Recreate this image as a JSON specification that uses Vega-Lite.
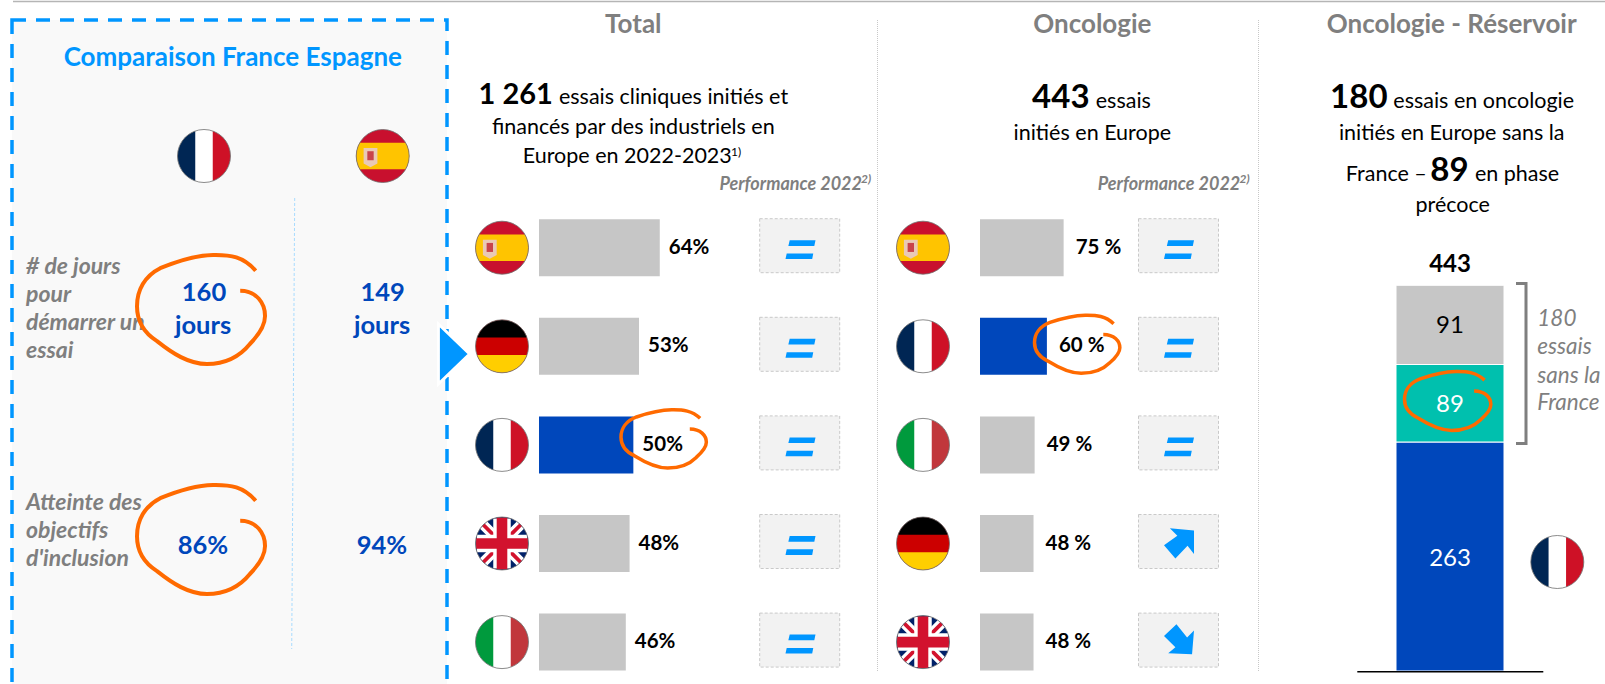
{
"$schema":"https://vega.github.io/schema/vega-lite/v6.json",
"padding":0,"bounds":"flush","spacing":0,"background":"white",
"datasets":{
"flags":[{"country":"FR","parts":["white","fr_b","fr_r"]},{"country":"ES","parts":["es_r","es_y","es_e1","es_e2"]},{"country":"DE","parts":["de_r","de_k","de_g"]},{"country":"IT","parts":["white","it_g","it_r"]},{"country":"UK","parts":["uk_b","uk_wd","uk_rd","uk_wc","uk_rc"]}],
"total":[{"rank":1,"country":"ES","value":64,"label":"64%","group":"bar_autres","trend":"trend_equal"},{"rank":2,"country":"DE","value":53,"label":"53%","group":"bar_autres","trend":"trend_equal"},{"rank":3,"country":"FR","value":50,"label":"50%","group":"bar_france","trend":"trend_equal"},{"rank":4,"country":"UK","value":48,"label":"48%","group":"bar_autres","trend":"trend_equal"},{"rank":5,"country":"IT","value":46,"label":"46%","group":"bar_autres","trend":"trend_equal"}],
"onco":[{"rank":1,"country":"ES","value":75,"label":"75 %","group":"bar_autres","trend":"trend_equal"},{"rank":2,"country":"FR","value":60,"label":"60 %","group":"bar_france","trend":"trend_equal"},{"rank":3,"country":"IT","value":49,"label":"49 %","group":"bar_autres","trend":"trend_equal"},{"rank":4,"country":"DE","value":48,"label":"48 %","group":"bar_autres","trend":"trend_up"},{"rank":5,"country":"UK","value":48,"label":"48 %","group":"bar_autres","trend":"trend_down"}],
"stack":[{"segment":"seg_france","value":263,"ord":1},{"segment":"seg_precoce","value":89,"ord":2},{"segment":"seg_autres","value":91,"ord":3}]
},
"hconcat":[
{"width":472,"height":684,"layer":[
{"data":{"values":[{"t":"cadre"}]},"mark":{"type":"rect","clip":true,"fill":"#f9f9f9","stroke":"#0096ff","strokeWidth":3.5,"strokeDash":[14,10]},"encoding":{"x":{"datum":12,"scale":{"domain":[0,472],"nice":false,"zero":false}},"x2":{"datum":447},"y":{"datum":19,"scale":{"domain":[0,684],"reverse":true,"nice":false,"zero":false}},"y2":{"datum":695}}},
{"data":{"values":[{"t":"l"}]},"mark":{"type":"rule","color":"#b5b5b5","strokeWidth":1.5},"encoding":{"x":{"datum":13},"x2":{"datum":472},"y":{"datum":0.5}}},
{"data":{"values":[{"t":"l"}]},"mark":{"type":"rule","color":"#a9dcff","strokeWidth":1,"strokeDash":[3,2]},"encoding":{"x":{"datum":294.7},"x2":{"datum":291.7},"y":{"datum":197},"y2":{"datum":648}}},
{"data":{"values":[{"t":"Comparaison France Espagne"}]},"mark":{"type":"text","style":"title"},"encoding":{"text":{"field":"t"},"x":{"datum":232.8},"y":{"datum":65}}},
{"data":{"values":[{"country":"FR"}]},"transform":[{"lookup":"country","from":{"data":{"name":"flags"},"key":"country","fields":["parts"]}},{"flatten":["parts"]}],"mark":{"type":"point","filled":true,"opacity":1,"size":2809,"strokeWidth":0},"encoding":{"x":{"datum":204},"y":{"datum":155},"shape":{"field":"parts","type":"nominal"},"color":{"field":"parts","type":"nominal"}}},
{"data":{"values":[{"country":"ES"}]},"transform":[{"lookup":"country","from":{"data":{"name":"flags"},"key":"country","fields":["parts"]}},{"flatten":["parts"]}],"mark":{"type":"point","filled":true,"opacity":1,"size":2809,"strokeWidth":0},"encoding":{"x":{"datum":382.7},"y":{"datum":155},"shape":{"field":"parts","type":"nominal"},"color":{"field":"parts","type":"nominal"}}},
{"data":{"values":[{"country":"FR"}]},"mark":{"type":"point","shape":"circle","size":2809,"filled":false,"opacity":1,"stroke":"#6e6e6e","strokeWidth":0.8},"encoding":{"x":{"datum":204},"y":{"datum":155}}},
{"data":{"values":[{"country":"ES"}]},"mark":{"type":"point","shape":"circle","size":2809,"filled":false,"opacity":1,"stroke":"#6e6e6e","strokeWidth":0.8},"encoding":{"x":{"datum":382.7},"y":{"datum":155}}},
{"data":{"values":[{"t":"# de jours"}]},"mark":{"type":"text","style":"rowl"},"encoding":{"text":{"field":"t"},"x":{"datum":26},"y":{"datum":273}}},
{"data":{"values":[{"t":"pour"}]},"mark":{"type":"text","style":"rowl"},"encoding":{"text":{"field":"t"},"x":{"datum":26},"y":{"datum":301}}},
{"data":{"values":[{"t":"démarrer un"}]},"mark":{"type":"text","style":"rowl"},"encoding":{"text":{"field":"t"},"x":{"datum":26},"y":{"datum":329}}},
{"data":{"values":[{"t":"essai"}]},"mark":{"type":"text","style":"rowl"},"encoding":{"text":{"field":"t"},"x":{"datum":26},"y":{"datum":357}}},
{"data":{"values":[{"t":"Atteinte des"}]},"mark":{"type":"text","style":"rowl"},"encoding":{"text":{"field":"t"},"x":{"datum":26},"y":{"datum":509}}},
{"data":{"values":[{"t":"objectifs"}]},"mark":{"type":"text","style":"rowl"},"encoding":{"text":{"field":"t"},"x":{"datum":26},"y":{"datum":537}}},
{"data":{"values":[{"t":"d'inclusion"}]},"mark":{"type":"text","style":"rowl"},"encoding":{"text":{"field":"t"},"x":{"datum":26},"y":{"datum":565}}},
{"data":{"values":[{"t":"160"}]},"mark":{"type":"text","style":"val"},"encoding":{"text":{"field":"t"},"x":{"datum":204},"y":{"datum":300}}},
{"data":{"values":[{"t":"jours"}]},"mark":{"type":"text","style":"val"},"encoding":{"text":{"field":"t"},"x":{"datum":203},"y":{"datum":333}}},
{"data":{"values":[{"t":"149"}]},"mark":{"type":"text","style":"val"},"encoding":{"text":{"field":"t"},"x":{"datum":382.7},"y":{"datum":300}}},
{"data":{"values":[{"t":"jours"}]},"mark":{"type":"text","style":"val"},"encoding":{"text":{"field":"t"},"x":{"datum":382},"y":{"datum":333}}},
{"data":{"values":[{"t":"86%"}]},"mark":{"type":"text","style":"val"},"encoding":{"text":{"field":"t"},"x":{"datum":203},"y":{"datum":552.7}}},
{"data":{"values":[{"t":"94%"}]},"mark":{"type":"text","style":"val"},"encoding":{"text":{"field":"t"},"x":{"datum":382},"y":{"datum":552.7}}},
{"data":{"values":[{"t":"160 jours"}]},"mark":{"type":"point","filled":false,"opacity":1,"stroke":"#ff6a00","strokeWidth":4,"size":16641,"shape":"M0.84,-0.6C0.65,-0.82 0.45,-0.85 0.18,-0.845C-0.1,-0.84 -0.4,-0.74 -0.64,-0.64C-0.88,-0.52 -1,-0.3 -1,-0.05C-1,0.2 -0.88,0.37 -0.69,0.49C-0.45,0.68 -0.2,0.845 0.085,0.845C0.4,0.845 0.6,0.72 0.75,0.535C0.9,0.38 0.985,0.25 0.985,0.1C0.985,-0.1 0.85,-0.29 0.6,-0.29"},"encoding":{"x":{"datum":201.5},"y":{"datum":308.5}}},
{"data":{"values":[{"t":"86%"}]},"mark":{"type":"point","filled":false,"opacity":1,"stroke":"#ff6a00","strokeWidth":4,"size":16641,"shape":"M0.84,-0.6C0.65,-0.82 0.45,-0.85 0.18,-0.845C-0.1,-0.84 -0.4,-0.74 -0.64,-0.64C-0.88,-0.52 -1,-0.3 -1,-0.05C-1,0.2 -0.88,0.37 -0.69,0.49C-0.45,0.68 -0.2,0.845 0.085,0.845C0.4,0.845 0.6,0.72 0.75,0.535C0.9,0.38 0.985,0.25 0.985,0.1C0.985,-0.1 0.85,-0.29 0.6,-0.29"},"encoding":{"x":{"datum":201.5},"y":{"datum":538.5}}},
{"data":{"values":[{"t":"flèche"}]},"mark":{"type":"point","filled":true,"opacity":1,"color":"#0096ff","stroke":"white","strokeWidth":3,"size":3600,"shape":"M-0.52,-1L0.52,0L-0.52,1Z"},"encoding":{"x":{"datum":454},"y":{"datum":353}}}
]},
{"width":405,"height":684,"resolve":{"scale":{"x":"independent","y":"independent"}},"layer":[
{"data":{"name":"total"},"layer":[
{"mark":{"type":"bar","orient":"horizontal","size":57},"encoding":{"x":{"field":"value","type":"quantitative","stack":null,"scale":{"domain":[-35.506,179.12],"nice":false,"zero":false}},"y":{"field":"rank","type":"quantitative","scale":{"domain":[-1.502,5.435],"reverse":true,"nice":false,"zero":false,"padding":0}},"color":{"field":"group","type":"nominal"}}},
{"mark":{"type":"text","style":"barlab","dx":9},"encoding":{"x":{"field":"value","type":"quantitative"},"y":{"field":"rank","type":"quantitative"},"text":{"field":"label"}}}
]},
{"data":{"name":"total"},"layer":[
{"transform":[{"lookup":"country","from":{"data":{"name":"flags"},"key":"country","fields":["parts"]}},{"flatten":["parts"]}],"mark":{"type":"point","filled":true,"opacity":1,"size":2809,"strokeWidth":0},"encoding":{"x":{"datum":502,"scale":{"domain":[472,877],"nice":false,"zero":false}},"y":{"field":"rank","type":"quantitative","scale":{"domain":[-1.502,5.435],"reverse":true,"nice":false,"zero":false}},"shape":{"field":"parts","type":"nominal"},"color":{"field":"parts","type":"nominal"}}},
{"mark":{"type":"point","shape":"circle","size":2809,"filled":false,"opacity":1,"stroke":"#6e6e6e","strokeWidth":0.8},"encoding":{"x":{"datum":502},"y":{"field":"rank","type":"quantitative"}}},
{"mark":{"type":"point","filled":true,"opacity":1,"fill":"#f2f2f2","stroke":"#c9c9c9","strokeWidth":1,"strokeDash":[3,2],"yOffset":-2,"size":6400,"shape":"M-1,-0.675L1,-0.675L1,0.675L-1,0.675Z"},"encoding":{"x":{"datum":799.7},"y":{"field":"rank","type":"quantitative"}}},
{"mark":{"type":"point","filled":true,"opacity":1,"color":"#0096ff","size":900,"strokeWidth":0},"encoding":{"x":{"datum":800.5},"y":{"field":"rank","type":"quantitative"},"shape":{"field":"trend","type":"nominal"}}},
{"transform":[{"filter":{"field":"country","equal":"FR"}}],"mark":{"type":"point","filled":false,"opacity":1,"stroke":"#ff6a00","strokeWidth":3.5,"yOffset":-6,"size":7396,"shape":"M0.84,-0.48C0.65,-0.66 0.45,-0.68 0.18,-0.676C-0.1,-0.67 -0.4,-0.59 -0.64,-0.51C-0.88,-0.42 -1,-0.24 -1,-0.04C-1,0.16 -0.88,0.3 -0.69,0.39C-0.45,0.54 -0.2,0.676 0.085,0.676C0.4,0.676 0.6,0.58 0.75,0.43C0.9,0.3 0.985,0.2 0.985,0.08C0.985,-0.08 0.85,-0.23 0.6,-0.23"},"encoding":{"x":{"datum":664},"y":{"field":"rank","type":"quantitative"}}}
]},
{"layer":[
{"data":{"values":[{"t":"l"}]},"mark":{"type":"rule","color":"#b5b5b5","strokeWidth":1.5},"encoding":{"x":{"datum":472,"scale":{"domain":[472,877],"nice":false,"zero":false}},"x2":{"datum":877},"y":{"datum":0.5,"scale":{"domain":[0,684],"reverse":true,"nice":false,"zero":false}}}},
{"data":{"values":[{"t":"Total"}]},"mark":{"type":"text","style":"head"},"encoding":{"text":{"field":"t"},"x":{"datum":633.3},"y":{"datum":31.7}}},
{"data":{"values":[{"t":"1 261"}]},"mark":{"type":"text","style":"lead28"},"encoding":{"text":{"field":"t"},"x":{"datum":515.7},"y":{"datum":102.7}}},
{"data":{"values":[{"t":"essais cliniques initiés et"}]},"mark":{"type":"text","style":"body"},"encoding":{"text":{"field":"t"},"x":{"datum":673.5},"y":{"datum":102.7}}},
{"data":{"values":[{"t":"financés par des industriels en"}]},"mark":{"type":"text","style":"body"},"encoding":{"text":{"field":"t"},"x":{"datum":633.3},"y":{"datum":133}}},
{"data":{"values":[{"t":"Europe en 2022-2023"}]},"mark":{"type":"text","style":"body"},"encoding":{"text":{"field":"t"},"x":{"datum":627.3},"y":{"datum":161.7}}},
{"data":{"values":[{"t":"1)"}]},"mark":{"type":"text","style":"sup"},"encoding":{"text":{"field":"t"},"x":{"datum":736},"y":{"datum":155}}},
{"data":{"values":[{"t":"Performance 2022"}]},"mark":{"type":"text","style":"perf"},"encoding":{"text":{"field":"t"},"x":{"datum":790.7},"y":{"datum":189.3}}},
{"data":{"values":[{"t":"2)"}]},"mark":{"type":"text","style":"supi"},"encoding":{"text":{"field":"t"},"x":{"datum":866},"y":{"datum":181.7}}}
]}
]},
{"width":381,"height":684,"resolve":{"scale":{"x":"independent","y":"independent"}},"layer":[
{"data":{"name":"onco"},"layer":[
{"mark":{"type":"bar","orient":"horizontal","size":57},"encoding":{"x":{"field":"value","type":"quantitative","stack":null,"scale":{"domain":[-92.38,249.33],"nice":false,"zero":false}},"y":{"field":"rank","type":"quantitative","scale":{"domain":[-1.502,5.435],"reverse":true,"nice":false,"zero":false,"padding":0}},"color":{"field":"group","type":"nominal"}}},
{"mark":{"type":"text","style":"barlab","dx":12},"encoding":{"x":{"field":"value","type":"quantitative"},"y":{"field":"rank","type":"quantitative"},"text":{"field":"label"}}}
]},
{"data":{"name":"onco"},"layer":[
{"transform":[{"lookup":"country","from":{"data":{"name":"flags"},"key":"country","fields":["parts"]}},{"flatten":["parts"]}],"mark":{"type":"point","filled":true,"opacity":1,"size":2809,"strokeWidth":0},"encoding":{"x":{"datum":923,"scale":{"domain":[877,1258],"nice":false,"zero":false}},"y":{"field":"rank","type":"quantitative","scale":{"domain":[-1.502,5.435],"reverse":true,"nice":false,"zero":false}},"shape":{"field":"parts","type":"nominal"},"color":{"field":"parts","type":"nominal"}}},
{"mark":{"type":"point","shape":"circle","size":2809,"filled":false,"opacity":1,"stroke":"#6e6e6e","strokeWidth":0.8},"encoding":{"x":{"datum":923},"y":{"field":"rank","type":"quantitative"}}},
{"mark":{"type":"point","filled":true,"opacity":1,"fill":"#f2f2f2","stroke":"#c9c9c9","strokeWidth":1,"strokeDash":[3,2],"yOffset":-2,"size":6400,"shape":"M-1,-0.675L1,-0.675L1,0.675L-1,0.675Z"},"encoding":{"x":{"datum":1178.5},"y":{"field":"rank","type":"quantitative"}}},
{"mark":{"type":"point","filled":true,"opacity":1,"color":"#0096ff","size":900,"strokeWidth":0},"encoding":{"x":{"datum":1179},"y":{"field":"rank","type":"quantitative"},"shape":{"field":"trend","type":"nominal"}}},
{"transform":[{"filter":{"field":"country","equal":"FR"}}],"mark":{"type":"point","filled":false,"opacity":1,"stroke":"#ff6a00","strokeWidth":3.5,"yOffset":-2,"size":7396,"shape":"M0.84,-0.48C0.65,-0.66 0.45,-0.68 0.18,-0.676C-0.1,-0.67 -0.4,-0.59 -0.64,-0.51C-0.88,-0.42 -1,-0.24 -1,-0.04C-1,0.16 -0.88,0.3 -0.69,0.39C-0.45,0.54 -0.2,0.676 0.085,0.676C0.4,0.676 0.6,0.58 0.75,0.43C0.9,0.3 0.985,0.2 0.985,0.08C0.985,-0.08 0.85,-0.23 0.6,-0.23"},"encoding":{"x":{"datum":1077.5},"y":{"field":"rank","type":"quantitative"}}}
]},
{"layer":[
{"data":{"values":[{"t":"l"}]},"mark":{"type":"rule","color":"#b5b5b5","strokeWidth":1.5},"encoding":{"x":{"datum":877,"scale":{"domain":[877,1258],"nice":false,"zero":false}},"x2":{"datum":1258},"y":{"datum":0.5,"scale":{"domain":[0,684],"reverse":true,"nice":false,"zero":false}}}},
{"data":{"values":[{"t":"l"}]},"mark":{"type":"rule","color":"#c8c8c8","strokeWidth":1,"strokeDash":[1,1]},"encoding":{"x":{"datum":877.5},"y":{"datum":19},"y2":{"datum":670}}},
{"data":{"values":[{"t":"Oncologie"}]},"mark":{"type":"text","style":"head"},"encoding":{"text":{"field":"t"},"x":{"datum":1092.3},"y":{"datum":31.7}}},
{"data":{"values":[{"t":"443"}]},"mark":{"type":"text","style":"lead32"},"encoding":{"text":{"field":"t"},"x":{"datum":1060.8},"y":{"datum":106.7}}},
{"data":{"values":[{"t":"essais"}]},"mark":{"type":"text","style":"body"},"encoding":{"text":{"field":"t"},"x":{"datum":1123.3},"y":{"datum":106.7}}},
{"data":{"values":[{"t":"initiés en Europe"}]},"mark":{"type":"text","style":"body"},"encoding":{"text":{"field":"t"},"x":{"datum":1092.3},"y":{"datum":139}}},
{"data":{"values":[{"t":"Performance 2022"}]},"mark":{"type":"text","style":"perf"},"encoding":{"text":{"field":"t"},"x":{"datum":1169},"y":{"datum":189.3}}},
{"data":{"values":[{"t":"2)"}]},"mark":{"type":"text","style":"supi"},"encoding":{"text":{"field":"t"},"x":{"datum":1244.5},"y":{"datum":181.7}}}
]}
]},
{"width":347,"height":684,"resolve":{"scale":{"y":"independent"}},"layer":[
{"data":{"name":"stack"},"mark":{"type":"bar","orient":"vertical","size":108,"stroke":"white","strokeWidth":1},"encoding":{"x":{"datum":1450,"scale":{"domain":[1258,1605],"nice":false,"zero":false,"padding":0}},"y":{"field":"value","type":"quantitative","stack":"zero","scale":{"domain":[-16.08,769.5],"nice":false,"zero":false}},"color":{"field":"segment","type":"nominal"},"order":{"field":"ord","type":"quantitative"}}},
{"layer":[
{"data":{"values":[{"t":"l"}]},"mark":{"type":"rule","color":"#b5b5b5","strokeWidth":1.5},"encoding":{"x":{"datum":1258},"x2":{"datum":1605},"y":{"datum":0.5,"scale":{"domain":[0,684],"reverse":true,"nice":false,"zero":false}}}},
{"data":{"values":[{"t":"l"}]},"mark":{"type":"rule","color":"#c8c8c8","strokeWidth":1,"strokeDash":[1,1]},"encoding":{"x":{"datum":1258.5},"y":{"datum":19},"y2":{"datum":670}}},
{"data":{"values":[{"t":"l"}]},"mark":{"type":"rule","color":"#000000","strokeWidth":1.5},"encoding":{"x":{"datum":1357.3},"x2":{"datum":1543.3},"y":{"datum":670.7}}},
{"data":{"values":[{"t":"Oncologie - Réservoir"}]},"mark":{"type":"text","style":"head"},"encoding":{"text":{"field":"t"},"x":{"datum":1451.7},"y":{"datum":31.7}}},
{"data":{"values":[{"t":"180"}]},"mark":{"type":"text","style":"lead32"},"encoding":{"text":{"field":"t"},"x":{"datum":1358.8},"y":{"datum":106.7}}},
{"data":{"values":[{"t":"essais en oncologie"}]},"mark":{"type":"text","style":"body"},"encoding":{"text":{"field":"t"},"x":{"datum":1483.7},"y":{"datum":106.7}}},
{"data":{"values":[{"t":"initiés en Europe sans la"}]},"mark":{"type":"text","style":"body"},"encoding":{"text":{"field":"t"},"x":{"datum":1451.7},"y":{"datum":139}}},
{"data":{"values":[{"t":"France –"}]},"mark":{"type":"text","style":"body"},"encoding":{"text":{"field":"t"},"x":{"datum":1386.3},"y":{"datum":180}}},
{"data":{"values":[{"t":"89"}]},"mark":{"type":"text","style":"lead32"},"encoding":{"text":{"field":"t"},"x":{"datum":1449.5},"y":{"datum":180}}},
{"data":{"values":[{"t":"en phase"}]},"mark":{"type":"text","style":"body"},"encoding":{"text":{"field":"t"},"x":{"datum":1517},"y":{"datum":180}}},
{"data":{"values":[{"t":"précoce"}]},"mark":{"type":"text","style":"body"},"encoding":{"text":{"field":"t"},"x":{"datum":1452.7},"y":{"datum":211}}},
{"data":{"values":[{"t":"443"}]},"mark":{"type":"text","style":"tot"},"encoding":{"text":{"field":"t"},"x":{"datum":1450},"y":{"datum":270.7}}},
{"data":{"values":[{"t":"91"}]},"mark":{"type":"text","style":"seg"},"encoding":{"text":{"field":"t"},"x":{"datum":1450},"y":{"datum":331.7}}},
{"data":{"values":[{"t":"89"}]},"mark":{"type":"text","style":"segw"},"encoding":{"text":{"field":"t"},"x":{"datum":1450},"y":{"datum":410.7}}},
{"data":{"values":[{"t":"263"}]},"mark":{"type":"text","style":"segw"},"encoding":{"text":{"field":"t"},"x":{"datum":1450},"y":{"datum":565}}},
{"data":{"values":[{"t":"89"}]},"mark":{"type":"point","filled":false,"opacity":1,"stroke":"#ff6a00","strokeWidth":3.5,"size":7569,"shape":"M0.84,-0.48C0.65,-0.66 0.45,-0.68 0.18,-0.676C-0.1,-0.67 -0.4,-0.59 -0.64,-0.51C-0.88,-0.42 -1,-0.24 -1,-0.04C-1,0.16 -0.88,0.3 -0.69,0.39C-0.45,0.54 -0.2,0.676 0.085,0.676C0.4,0.676 0.6,0.58 0.75,0.43C0.9,0.3 0.985,0.2 0.985,0.08C0.985,-0.08 0.85,-0.23 0.6,-0.23"},"encoding":{"x":{"datum":1448},"y":{"datum":400}}},
{"data":{"values":[{"t":"180 essais sans la France"}]},"mark":{"type":"point","filled":false,"opacity":1,"stroke":"#7f7f7f","strokeWidth":3,"size":25600,"shape":"M-0.0625,-1L0.0625,-1L0.0625,1L-0.0625,1"},"encoding":{"x":{"datum":1521},"y":{"datum":362.5}}},
{"data":{"values":[{"t":"180"}]},"mark":{"type":"text","style":"side"},"encoding":{"text":{"field":"t"},"x":{"datum":1537.3},"y":{"datum":325}}},
{"data":{"values":[{"t":"essais"}]},"mark":{"type":"text","style":"side"},"encoding":{"text":{"field":"t"},"x":{"datum":1537.3},"y":{"datum":353.3}}},
{"data":{"values":[{"t":"sans la"}]},"mark":{"type":"text","style":"side"},"encoding":{"text":{"field":"t"},"x":{"datum":1537.3},"y":{"datum":381.7}}},
{"data":{"values":[{"t":"France"}]},"mark":{"type":"text","style":"side"},"encoding":{"text":{"field":"t"},"x":{"datum":1537.3},"y":{"datum":409}}},
{"data":{"values":[{"country":"FR"}]},"transform":[{"lookup":"country","from":{"data":{"name":"flags"},"key":"country","fields":["parts"]}},{"flatten":["parts"]}],"mark":{"type":"point","filled":true,"opacity":1,"size":2809,"strokeWidth":0},"encoding":{"x":{"datum":1557.3},"y":{"datum":561},"shape":{"field":"parts","type":"nominal"},"color":{"field":"parts","type":"nominal"}}},
{"data":{"values":[{"country":"FR"}]},"mark":{"type":"point","shape":"circle","size":2809,"filled":false,"opacity":1,"stroke":"#6e6e6e","strokeWidth":0.8},"encoding":{"x":{"datum":1557.3},"y":{"datum":561}}}
]}
]}
],
"config":{
"font":"Lato",
"concat":{"spacing":0},
"view":{"stroke":null},
"axis":{"disable":true},
"legend":{"disable":true},
"range":{
"category":["#c6c6c6","#0047bb","#ffce00","#000000","#cc0000","#e9c9b6","#c9434a","#c8102e","#ffc400","#002654","#ce1126","#009a3d","#c1373c","#c6c6c6","#0047bb","#00c0ae","#012169","#d2122e","#d2122e","#ffffff","#ffffff","#ffffff"],
"symbol":["M0.943,0.33A1,1 0 0 1 -0.943,0.33Z","M-0.943,-0.33A1,1 0 0 1 0.943,-0.33Z","circle","M-0.72,-0.3L-0.2,-0.3L-0.2,0.28L-0.46,0.42L-0.72,0.28Z","M-0.58,-0.18L-0.34,-0.18L-0.34,0.16L-0.58,0.16Z","circle","M-0.866,-0.5L0.866,-0.5A1,1 0 0 1 0.866,0.5L-0.866,0.5A1,1 0 0 1 -0.866,-0.5Z","M-0.33,-0.943A1,1 0 0 0 -0.33,0.943Z","M0.33,-0.943A1,1 0 0 1 0.33,0.943Z","M-0.33,-0.943A1,1 0 0 0 -0.33,0.943Z","M0.33,-0.943A1,1 0 0 1 0.33,0.943Z","M-0.17,-1.19L0.54,-0.3L1,-0.78L0.87,0.81L-0.72,0.74L-0.24,0.35L-1,-0.41Z","M-0.72,-0.5L1,-0.5L0.92,-0.12L-0.81,-0.12Z M-0.92,0.39L0.85,0.39L0.78,0.76L-1,0.76Z","M-0.61,-1.02L1,-0.87L1,0.7L0.57,0.15L-0.24,1L-1,0.11L-0.11,-0.52Z","circle","M-0.2,-0.98L0.2,-0.98L0.2,-0.2L0.98,-0.2L0.98,0.2L0.2,0.2L0.2,0.98L-0.2,0.98L-0.2,0.2L-0.98,0.2L-0.98,-0.2L-0.2,-0.2Z","M-0.757,-0.657L-0.657,-0.757L0.757,0.657L0.657,0.757Z M0.757,-0.657L-0.657,0.757L-0.757,0.657L0.657,-0.757Z","M-0.33,-0.943L0.33,-0.943L0.33,-0.33L0.943,-0.33L0.943,0.33L0.33,0.33L0.33,0.943L-0.33,0.943L-0.33,0.33L-0.943,0.33L-0.943,-0.33L-0.33,-0.33Z","M-0.83,-0.56L-0.56,-0.83L0.83,0.56L0.56,0.83Z M0.83,-0.56L-0.56,0.83L-0.83,0.56L0.56,-0.83Z","circle"]
},
"style":{
"title":{"font":"Lato","fontWeight":"bold","fontSize":26,"color":"#0096ff","align":"center","baseline":"alphabetic"},
"head":{"font":"Lato","fontWeight":"bold","fontSize":26,"color":"#7f7f7f","align":"center","baseline":"alphabetic"},
"lead28":{"font":"Lato","fontWeight":"bold","fontSize":29,"color":"#000000","align":"center","baseline":"alphabetic"},
"lead32":{"font":"Lato","fontWeight":"bold","fontSize":33,"color":"#000000","align":"center","baseline":"alphabetic"},
"body":{"font":"Lato","fontSize":21.5,"color":"#000000","align":"center","baseline":"alphabetic"},
"sup":{"font":"Lato","fontSize":12,"color":"#000000","align":"center","baseline":"alphabetic"},
"supi":{"font":"Lato","fontSize":12,"fontStyle":"italic","fontWeight":"bold","color":"#7f7f7f","align":"center","baseline":"alphabetic"},
"perf":{"font":"Lato","fontSize":18,"fontStyle":"italic","fontWeight":"bold","color":"#7f7f7f","align":"center","baseline":"alphabetic"},
"rowl":{"font":"Lato","fontSize":23,"fontStyle":"italic","fontWeight":"bold","color":"#7f7f7f","align":"left","baseline":"alphabetic"},
"val":{"font":"Lato","fontSize":25.5,"fontWeight":"bold","color":"#0047bb","align":"center","baseline":"alphabetic"},
"barlab":{"font":"Lato","fontSize":20.5,"fontWeight":"bold","color":"#000000","align":"left","baseline":"middle"},
"tot":{"font":"Lato","fontSize":24,"fontWeight":"bold","color":"#000000","align":"center","baseline":"alphabetic"},
"seg":{"font":"Lato","fontSize":24,"color":"#000000","align":"center","baseline":"alphabetic"},
"segw":{"font":"Lato","fontSize":24,"color":"#ffffff","align":"center","baseline":"alphabetic"},
"side":{"font":"Lato","fontSize":22.5,"fontStyle":"italic","color":"#7f7f7f","align":"left","baseline":"alphabetic"}
}
}
}
